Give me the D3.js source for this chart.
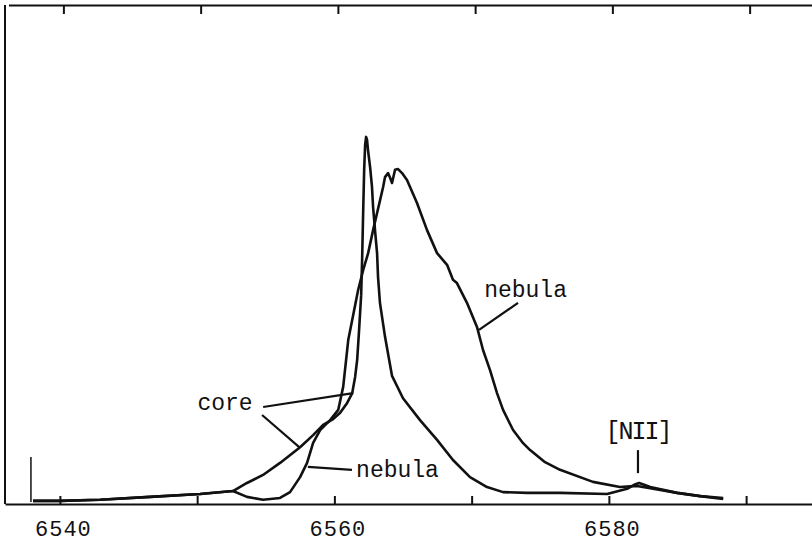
<!DOCTYPE html>
<html lang="en">
<head>
    <meta charset="UTF-8">
    <title>H-alpha profile: core and nebula</title>
    <script src="https://d3js.org/d3.v7.min.js"></script>
    <style>
        body, html {
            margin: 0;
            padding: 0;
            background: #fff;
            overflow: hidden;
        }
        .lbl {
            font-family: "Liberation Mono", "Courier New", monospace;
            font-size: 23px;
            fill: #111;
        }
        .tick text {
            font-family: "Liberation Mono", "Courier New", monospace;
            font-size: 22px;
            letter-spacing: 1px;
            fill: #111;
        }
    </style>
</head>
<body>
<div id="chart"></div>
<script>
    // wavelength (Angstrom) and relative intensity
    const coreLambda = [6538.04, 6540.0, 6542.92, 6546.57, 6550.22, 6552.61, 6553.63, 6554.80, 6556.04, 6557.50,
        6558.45, 6559.18, 6559.91, 6560.42, 6560.93, 6561.30, 6561.51, 6561.66, 6561.80, 6561.95,
        6562.02, 6562.10, 6562.17, 6562.24, 6562.31, 6562.38, 6562.45, 6562.60, 6562.74, 6562.82,
        6562.96, 6563.11, 6563.18, 6563.32, 6563.69, 6564.20, 6565.00, 6566.24, 6567.48, 6568.64,
        6569.88, 6571.12, 6572.29, 6574.04, 6576.44, 6579.87, 6581.33, 6581.84, 6582.20, 6582.57,
        6583.01, 6584.97, 6586.65, 6588.33];
    const coreFlux = [0.3, 0.3, 0.6, 1.4, 2.2, 3.0, 5.2, 7.4, 10.7, 15.0,
        18.3, 21.1, 22.7, 24.4, 27.1, 29.8, 34.2, 38.9, 47.1, 56.6,
        66.2, 79.9, 90.9, 97.7, 99.9, 99.1, 96.3, 91.7, 86.2, 80.7,
        74.4, 68.1, 61.6, 54.5, 45.2, 34.5, 28.4, 22.4, 17.0, 11.5,
        6.8, 4.1, 2.7, 2.5, 2.5, 2.2, 3.6, 4.7, 5.2, 4.7,
        4.1, 2.5, 1.6, 0.8];

    const nebLambda = [6538.04, 6540.0, 6542.92, 6546.57, 6550.22, 6552.61, 6553.63, 6554.80, 6556.04, 6556.77,
        6557.50, 6558.01, 6558.45, 6558.96, 6559.69, 6560.28, 6560.64, 6561.01, 6561.37, 6561.73,
        6562.10, 6562.46, 6562.82, 6563.11, 6563.33, 6563.55, 6563.69, 6563.91, 6564.06, 6564.20,
        6564.42, 6564.64, 6564.93, 6565.29, 6566.02, 6566.75, 6567.48, 6568.21, 6568.64, 6568.93,
        6569.66, 6570.39, 6570.83, 6571.34, 6571.85, 6572.29, 6573.02, 6573.75, 6574.26, 6575.35,
        6576.44, 6578.84, 6580.81, 6582.05, 6583.01, 6584.97, 6586.65, 6588.33];
    const nebFlux = [0.3, 0.3, 0.6, 1.4, 2.2, 3.0, 1.4, 0.6, 1.1, 2.7,
        6.8, 10.7, 16.2, 19.7, 22.4, 25.2, 31.5, 44.3, 51.2, 58.0,
        63.5, 68.1, 74.4, 79.1, 82.6, 86.2, 88.9, 90.0, 88.7, 87.3,
        90.9, 91.1, 90.0, 88.1, 81.8, 74.4, 68.1, 64.9, 60.8, 59.9,
        54.5, 47.9, 41.6, 36.1, 29.8, 25.2, 19.7, 16.1, 14.2, 10.9,
        8.8, 5.5, 4.1, 4.4, 3.8, 2.5, 1.6, 1.1];

    // start marker of the scan
    const startMark = [[6537.89, 0], [6537.89, 12.3]];

    const tickValues = [6540, 6550, 6560, 6570, 6580, 6590];
    const tickLabels = {6540: "6540", 6560: "6560", 6580: "6580"};

    // label pointers, in data units
    const pointers = [
        [[6554.81, 26.0], [6561.37, 29.8]],
        [[6554.73, 23.8], [6557.50, 14.8]],
        [[6558.07, 9.6], [6561.28, 8.8]],
        [[6570.54, 47.1], [6573.38, 54.5]],
        [[6582.12, 14.2], [6582.12, 7.9]]
    ];
    const labels = [
        {text: "core", l: 6552.03, v: 25.2},
        {text: "nebula", l: 6564.6, v: 6.8},
        {text: "nebula", l: 6573.93, v: 56.1}
    ];

    const width = 812, height = 546;
    const svg = d3.select("#chart").append("svg")
        .attr("width", width)
        .attr("height", height);

    const x = d3.scaleLinear().domain([6536, 6594.8]).range([5, 812]);
    const xTop = d3.scaleLinear().domain([6536, 6594.8]).range([8.5, 815.5]);
    const y = d3.scaleLinear().domain([0, 136]).range([502, 5]);

    // frame
    svg.append("line")
        .attr("x1", 5).attr("x2", 5)
        .attr("y1", y(136)).attr("y2", 504)
        .attr("stroke", "#111").attr("stroke-width", 2);

    const bottomAxis = svg.append("g")
        .attr("transform", "translate(0,504)")
        .call(d3.axisBottom(x).tickValues(tickValues).tickSizeInner(-8).tickSizeOuter(0)
            .tickPadding(16).tickFormat(d => tickLabels[d] || ""));
    bottomAxis.attr("font-family", null).attr("font-size", null);
    bottomAxis.select(".domain").attr("stroke", "#111").attr("stroke-width", 2);
    bottomAxis.selectAll(".tick line").attr("stroke", "#111").attr("stroke-width", 2);
    bottomAxis.selectAll(".tick text").attr("dx", 3);

    const topAxis = svg.append("g")
        .attr("transform", "translate(0,5)")
        .call(d3.axisTop(xTop).tickValues(tickValues).tickSizeInner(-9).tickSizeOuter(0).tickFormat(""));
    topAxis.select(".domain").attr("stroke", "#111").attr("stroke-width", 2);
    topAxis.selectAll(".tick line").attr("stroke", "#111").attr("stroke-width", 2);

    const line = d3.line()
        .x(d => x(d[0]))
        .y(d => y(d[1]));

    const core = coreLambda.map((l, i) => [l, coreFlux[i]]);
    const neb = nebLambda.map((l, i) => [l, nebFlux[i]]);

    [core, neb].forEach(series => {
        svg.append("path")
            .datum(series)
            .attr("fill", "none")
            .attr("stroke", "#111")
            .attr("stroke-width", 2.6)
            .attr("stroke-linejoin", "round")
            .attr("d", line);
    });

    svg.append("path")
        .datum(startMark)
        .attr("fill", "none")
        .attr("stroke", "#111")
        .attr("stroke-width", 1.5)
        .attr("d", line);

    pointers.forEach(p => {
        svg.append("path")
            .datum(p)
            .attr("fill", "none")
            .attr("stroke", "#111")
            .attr("stroke-width", 2.2)
            .attr("d", line);
    });

    labels.forEach(d => {
        svg.append("text")
            .attr("class", "lbl")
            .attr("x", x(d.l))
            .attr("y", y(d.v))
            .attr("text-anchor", "middle")
            .text(d.text);
    });

    // [NII] line label
    svg.append("text")
        .attr("class", "lbl")
        .attr("x", x(6582.12))
        .attr("y", y(17.2))
        .attr("text-anchor", "middle")
        .style("font-size", "25px")
        .style("letter-spacing", "-2px")
        .text("[NII]");
</script>
</body>
</html>
